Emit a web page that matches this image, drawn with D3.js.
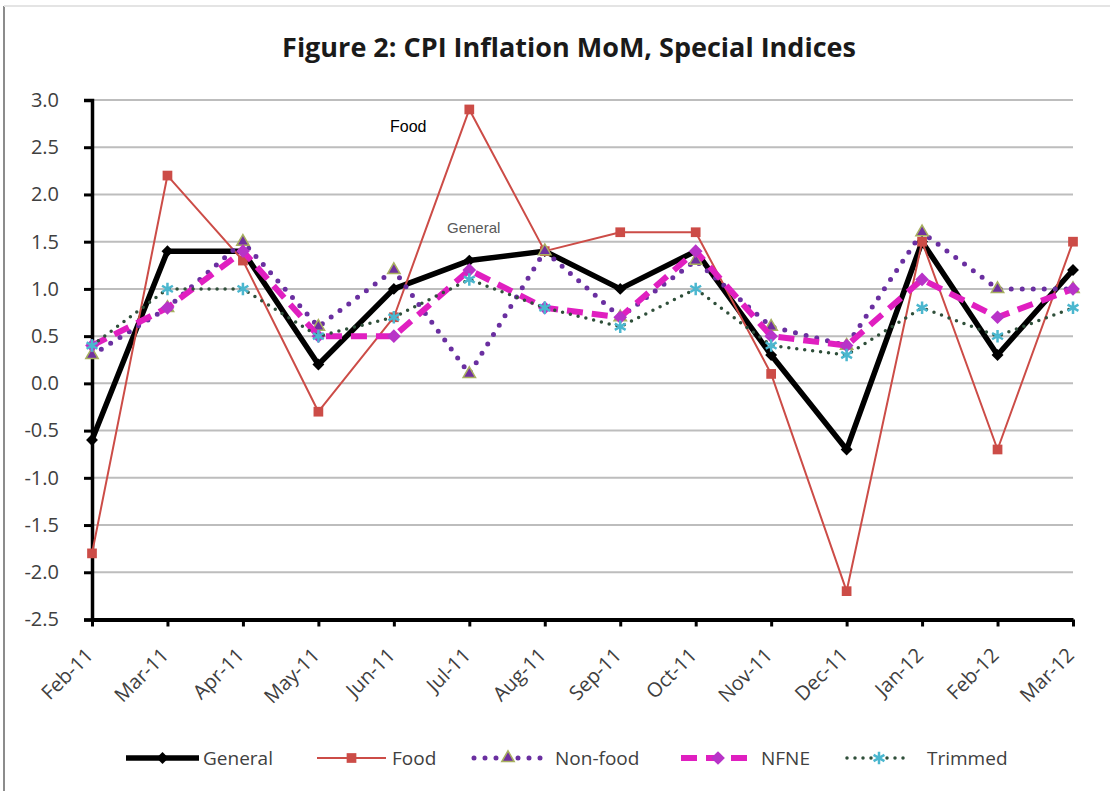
<!DOCTYPE html>
<html>
<head>
<meta charset="utf-8">
<script src="https://cdn.jsdelivr.net/npm/d3@7"></script>
<style>
  body { margin: 0; background: #fff; }
  svg { display: block; }
</style>
</head>
<body>
<div id="chart"></div>
<script>
const months = ["Feb-11", "Mar-11", "Apr-11", "May-11", "Jun-11", "Jul-11", "Aug-11",
  "Sep-11", "Oct-11", "Nov-11", "Dec-11", "Jan-12", "Feb-12", "Mar-12"];

const general = [-0.6, 1.4, 1.4, 0.2, 1.0, 1.3, 1.4, 1.0, 1.4, 0.3, -0.7, 1.5, 0.3, 1.2];
const food    = [-1.8, 2.2, 1.3, -0.3, 0.7, 2.9, 1.4, 1.6, 1.6, 0.1, -2.2, 1.5, -0.7, 1.5];
const nonFood = [0.3, 0.8, 1.5, 0.6, 1.2, 0.1, 1.4, 0.7, 1.3, 0.6, 0.4, 1.6, 1.0, 1.0];
const nfne    = [0.4, 0.8, 1.4, 0.5, 0.5, 1.2, 0.8, 0.7, 1.4, 0.5, 0.4, 1.1, 0.7, 1.0];
const trimmed = [0.4, 1.0, 1.0, 0.5, 0.7, 1.1, 0.8, 0.6, 1.0, 0.4, 0.3, 0.8, 0.5, 0.8];

const yTicks = [3.0, 2.5, 2.0, 1.5, 1.0, 0.5, 0.0, -0.5, -1.0, -1.5, -2.0, -2.5];

const width = 1110;
const height = 791;
const margin = {top: 100, right: 37, bottom: 172, left: 92};

const svg = d3.select("#chart").append("svg")
    .attr("width", width)
    .attr("height", height);

// frame edges of the pasted chart
svg.append("line")
    .attr("x1", 4).attr("x2", 4).attr("y1", 6).attr("y2", height)
    .attr("stroke", "#8c8c8c").attr("stroke-width", 2);
svg.append("line")
    .attr("x1", 4).attr("x2", width).attr("y1", 6).attr("y2", 6)
    .attr("stroke", "#e4e4e4").attr("stroke-width", 2);

svg.append("text")
    .attr("x", 569)
    .attr("y", 57)
    .attr("text-anchor", "middle")
    .attr("font-family", "'Open Sans', sans-serif")
    .attr("font-weight", "bold")
    .attr("font-size", 27)
    .attr("fill", "#1a1a1a")
    .text("Figure 2: CPI Inflation MoM, Special Indices");

const x = d3.scalePoint()
    .domain(months)
    .range([margin.left, width - margin.right]);

const y = d3.scaleLinear()
    .domain([-2.5, 3.0])
    .range([height - margin.bottom + 0.5, margin.top]);

// gridlines
svg.append("g")
  .selectAll("line")
  .data(yTicks.filter(d => d > -2.5))
  .join("line")
    .attr("x1", margin.left)
    .attr("x2", width - margin.right)
    .attr("y1", d => y(d))
    .attr("y2", d => y(d))
    .attr("stroke", "#bdbdbd")
    .attr("stroke-width", 2);

// y axis
const yAxis = svg.append("g")
    .attr("transform", `translate(${margin.left},0)`)
    .call(d3.axisLeft(y).tickValues(yTicks).tickFormat(d3.format(".1f")).tickSize(8).tickPadding(25));
yAxis.select(".domain").attr("stroke", "#000").attr("stroke-width", 3.5);
yAxis.selectAll(".tick line").attr("stroke", "#000").attr("stroke-width", 3);
yAxis.selectAll(".tick text")
    .attr("font-family", "'Open Sans', sans-serif")
    .attr("font-size", 20)
    .attr("fill", "#404040")
    .text(d => d3.format(".1f")(d).replace("−", "-"));

// x axis
const xAxis = svg.append("g")
    .attr("transform", `translate(0,${y(-2.5)})`)
    .call(d3.axisBottom(x).tickSize(7).tickSizeOuter(0));
xAxis.select(".domain").attr("stroke", "#000").attr("stroke-width", 4);
xAxis.selectAll(".tick line").attr("stroke", "#000").attr("stroke-width", 3);
xAxis.selectAll(".tick text")
    .attr("font-family", "'Open Sans', sans-serif")
    .attr("font-size", 20)
    .attr("fill", "#404040")
    .attr("text-anchor", "end")
    .attr("x", 0)
    .attr("y", 0)
    .attr("dx", 0)
    .attr("dy", "0.35em")
    .attr("transform", "translate(-3,32) rotate(-45)");

const line = d3.line()
    .x((d, i) => x(months[i]))
    .y(d => y(d));

const plot = svg.append("g");

function drawSeries(values, style) {
  plot.append("path")
      .datum(values)
      .attr("fill", "none")
      .attr("stroke", style.color)
      .attr("stroke-width", style.width)
      .attr("stroke-dasharray", style.dash || null)
      .attr("stroke-linecap", style.cap || "butt")
      .attr("stroke-linejoin", "round")
      .attr("d", line);
  plot.append("g")
    .selectAll("path")
    .data(values)
    .join("path")
      .attr("transform", (d, i) => `translate(${x(months[i])},${y(d)})`)
      .attr("d", style.symbol)
      .attr("fill", style.markerFill)
      .attr("stroke", style.markerStroke || "none")
      .attr("stroke-width", style.markerStrokeWidth || 0);
}

const diamond = d3.symbol().type(d3.symbolDiamond2).size(90)();
const square = d3.symbol().type(d3.symbolSquare2).size(120)();
const triangle = d3.symbol().type(d3.symbolTriangle2).size(110)();
const nfneDiamond = d3.symbol().type(d3.symbolDiamond2).size(120)();
const star = d3.symbol().type(d3.symbolAsterisk).size(110)();

const styles = {
  general: {color: "#000", width: 5.5, symbol: diamond, markerFill: "#000"},
  food: {color: "#cc4c47", width: 2, symbol: square, markerFill: "#cc4c47"},
  nonFood: {color: "#6a2fa0", width: 5, dash: "0 11", cap: "round", symbol: triangle,
    markerFill: "#7030a0", markerStroke: "#a8b060", markerStrokeWidth: 1.5},
  nfne: {color: "#e01fc0", width: 6, dash: "16 9", symbol: nfneDiamond, markerFill: "#b833c8"},
  trimmed: {color: "#2f4f3a", width: 3.5, dash: "0 8", cap: "round", symbol: star,
    markerFill: "none", markerStroke: "#4bb7cf", markerStrokeWidth: 2.5}
};

drawSeries(general, styles.general);
drawSeries(food, styles.food);
drawSeries(nonFood, styles.nonFood);
drawSeries(nfne, styles.nfne);
drawSeries(trimmed, styles.trimmed);

// annotations
svg.append("text")
    .attr("x", 390).attr("y", 132)
    .attr("font-family", "'Liberation Sans', Arial, sans-serif")
    .attr("font-size", 16)
    .attr("fill", "#000")
    .text("Food");
svg.append("text")
    .attr("x", 447).attr("y", 233)
    .attr("font-family", "'Liberation Sans', Arial, sans-serif")
    .attr("font-size", 15)
    .attr("fill", "#595959")
    .text("General");

// legend
const legendItems = [
  {name: "General", key: "general", x0: 126, x1: 199, tx: 203},
  {name: "Food", key: "food", x0: 317, x1: 386, tx: 392},
  {name: "Non-food", key: "nonFood", x0: 474, x1: 542, tx: 555},
  {name: "NFNE", key: "nfne", x0: 681, x1: 755, tx: 761},
  {name: "Trimmed", key: "trimmed", x0: 847, x1: 911, tx: 927}
];
const legendY = 758;
const legend = svg.append("g");
legendItems.forEach(item => {
  const s = styles[item.key];
  legend.append("line")
      .attr("x1", item.x0).attr("x2", item.x1)
      .attr("y1", legendY).attr("y2", legendY)
      .attr("stroke", s.color)
      .attr("stroke-width", s.width)
      .attr("stroke-dasharray", s.dash || null)
      .attr("stroke-linecap", s.cap || "butt");
  legend.append("path")
      .attr("transform", `translate(${(item.x0 + item.x1) / 2},${legendY})`)
      .attr("d", s.symbol)
      .attr("fill", s.markerFill)
      .attr("stroke", s.markerStroke || "none")
      .attr("stroke-width", s.markerStrokeWidth || 0);
  legend.append("text")
      .attr("x", item.tx)
      .attr("y", legendY)
      .attr("dy", "0.35em")
      .attr("font-family", "'Open Sans', sans-serif")
      .attr("font-size", 19)
      .attr("fill", "#404040")
      .text(item.name);
});
</script>
</body>
</html>
